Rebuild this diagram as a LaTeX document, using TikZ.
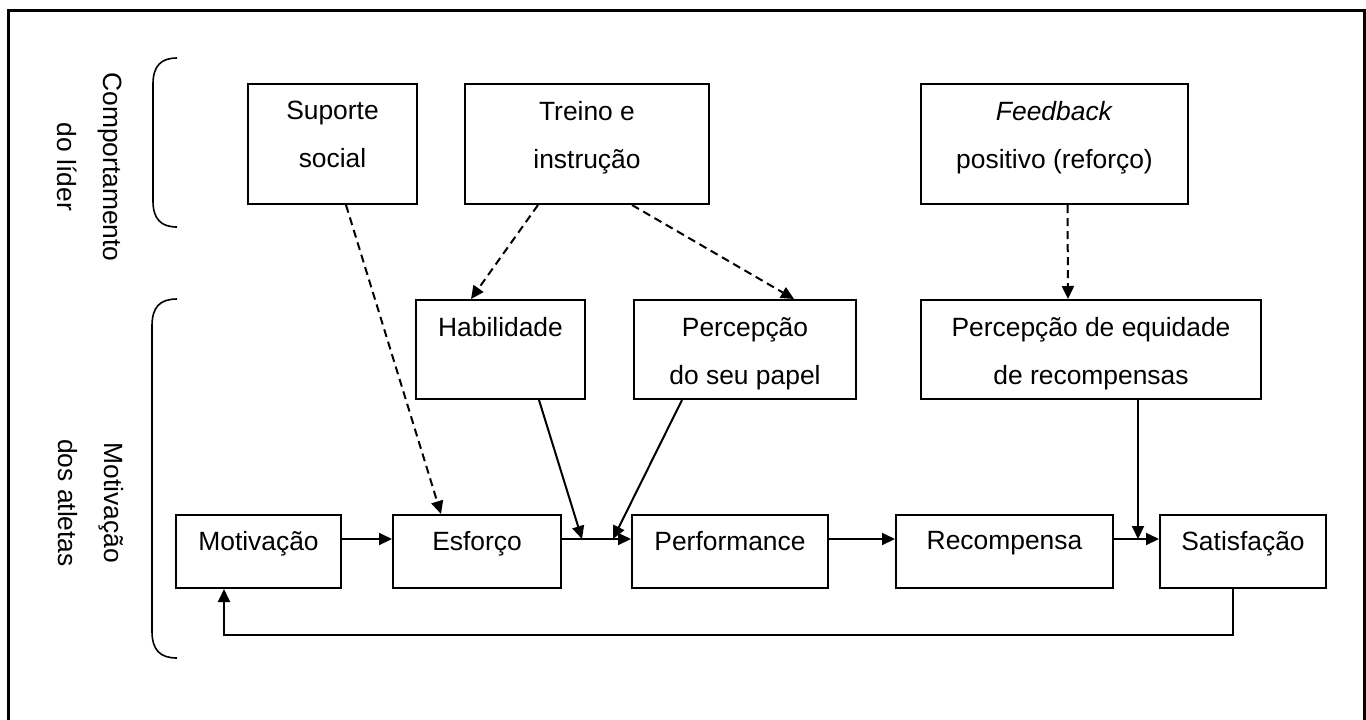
\documentclass[tikz,border=0pt]{standalone}
\usepackage{fontspec}
\setmainfont{Liberation Sans}
\usetikzlibrary{arrows.meta,calc}

\newcommand\boxfont{\fontsize{13.2pt}{24pt}\selectfont}
\newcommand\sidefont{\fontsize{13.2pt}{23pt}\selectfont}

\begin{document}
\begin{tikzpicture}[x=0.5pt,y=-0.5pt,
  box/.style={draw, line width=1pt, anchor=north west, inner sep=0pt},
  txt/.style={anchor=north, inner sep=0pt, align=center, font=\boxfont},
  side/.style={rotate=-90, inner sep=0pt, align=center, font=\sidefont},
  arr/.style={line width=1pt, -{Triangle[length=6.5pt,width=6pt]}},
  darr/.style={arr, dash pattern=on 4pt off 2.5pt},
  brace/.style={line width=0.8pt}]

\useasboundingbox (0,0) rectangle (1366,719);

% outer frame
\draw[line width=1.5pt] (8,730) -- (8,10) -- (1364,10) -- (1364,730);

% side braces and their labels
\draw[brace] (177,58) .. controls (161,58) and (153,66) .. (153,84)
  -- (153,201) .. controls (153,219) and (161,227) .. (177,227);
\draw[brace] (177,299) .. controls (160,299) and (152,307) .. (152,326)
  -- (152,631) .. controls (152,650) and (160,658) .. (177,658);
\node[side] (lider) at (90,167) {Comportamento\\do líder};
\node[side] (atletas) at (91,503) {Motivação\\dos atletas};

% leader behaviour
\node[box, minimum width=84.5pt, minimum height=60pt] (sup) at (247,83) {};
\node[txt] (sup-t) at ($(sup.north)+(0,18)$) {Suporte\\social};
\node[box, minimum width=122pt, minimum height=60pt] (tre) at (464,83) {};
\node[txt] (tre-t) at ($(tre.north)+(0,18)$) {Treino e\\instrução};
\node[box, minimum width=133.5pt, minimum height=60pt] (fee) at (920,83) {};
\node[txt] (fee-t) at ($(fee.north)+(0,18)$) {\textit{Feedback}\\positivo (reforço)};

% mediators
\node[box, minimum width=84.5pt, minimum height=49.5pt] (hab) at (415,299) {};
\node[txt] (hab-t) at ($(hab.north)+(0,18)$) {Habilidade};
\node[box, minimum width=111pt, minimum height=49.5pt] (per) at (633,299) {};
\node[txt] (per-t) at ($(per.north)+(0,18)$) {Percepção\\do seu papel};
\node[box, minimum width=170pt, minimum height=49.5pt] (equ) at (920,299) {};
\node[txt] (equ-t) at ($(equ.north)+(0,18)$) {Percepção de equidade\\de recompensas};

% motivation chain
\node[box, minimum width=82.5pt, minimum height=36.5pt] (mot) at (175,514) {};
\node[txt] (mot-t) at ($(mot.north)+(0,17)$) {Motivação};
\node[box, minimum width=84pt, minimum height=36.5pt] (esf) at (392,514) {};
\node[txt] (esf-t) at ($(esf.north)+(0,17)$) {Esforço};
\node[box, minimum width=98pt, minimum height=36.5pt] (prf) at (631,514) {};
\node[txt] (prf-t) at ($(prf.north)+(0,17)$) {Performance};
\node[box, minimum width=108.5pt, minimum height=36.5pt] (rec) at (895,514) {};
\node[txt] (rec-t) at ($(rec.north)+(0,17)$) {Recompensa};
\node[box, minimum width=83pt, minimum height=36.5pt] (sat) at (1159,514) {};
\node[txt] (sat-t) at ($(sat.north)+(0,17)$) {Satisfação};

% reference rows and junction points
\coordinate (rowy) at (0,539);
\coordinate (loopy) at (0,635);
\coordinate (jh) at (582,539);
\coordinate (jp) at (613,539);
\coordinate (je) at (1138,539);

% chain arrows
\draw[arr] (mot.east |- rowy) -- (esf.west |- rowy);
\draw[arr] (esf.east |- rowy) -- (prf.west |- rowy);
\draw[arr] (prf.east |- rowy) -- (rec.west |- rowy);
\draw[arr] (rec.east |- rowy) -- (sat.west |- rowy);
\draw[arr] ($(sat.south)+(-10,0)$) coordinate (l1) -- (l1 |- loopy)
  -| ($(mot.south)+(-34.5,0)$);

% mediators into the chain
\draw[arr] ($(hab.south)+(38.5,0)$) -- (jh);
\draw[arr] ($(per.south)+(-63,0)$) -- (jp);
\draw[arr] (equ.south -| je) -- (je);

% leader behaviour effects
\draw[darr] ($(sup.south)+(13.5,0)$) -- ($(esf.north)+(-36,0)$);
\draw[darr] ($(tre.south)+(-49,0)$) -- ($(hab.north)+(-29.5,0)$);
\draw[darr] ($(tre.south)+(45,0)$) -- ($(per.north)+(49,0)$);
\draw[darr] ($(fee.south)+(13,0)$) -- ($(equ.north)+(-23,0)$);
\end{tikzpicture}
\end{document}
